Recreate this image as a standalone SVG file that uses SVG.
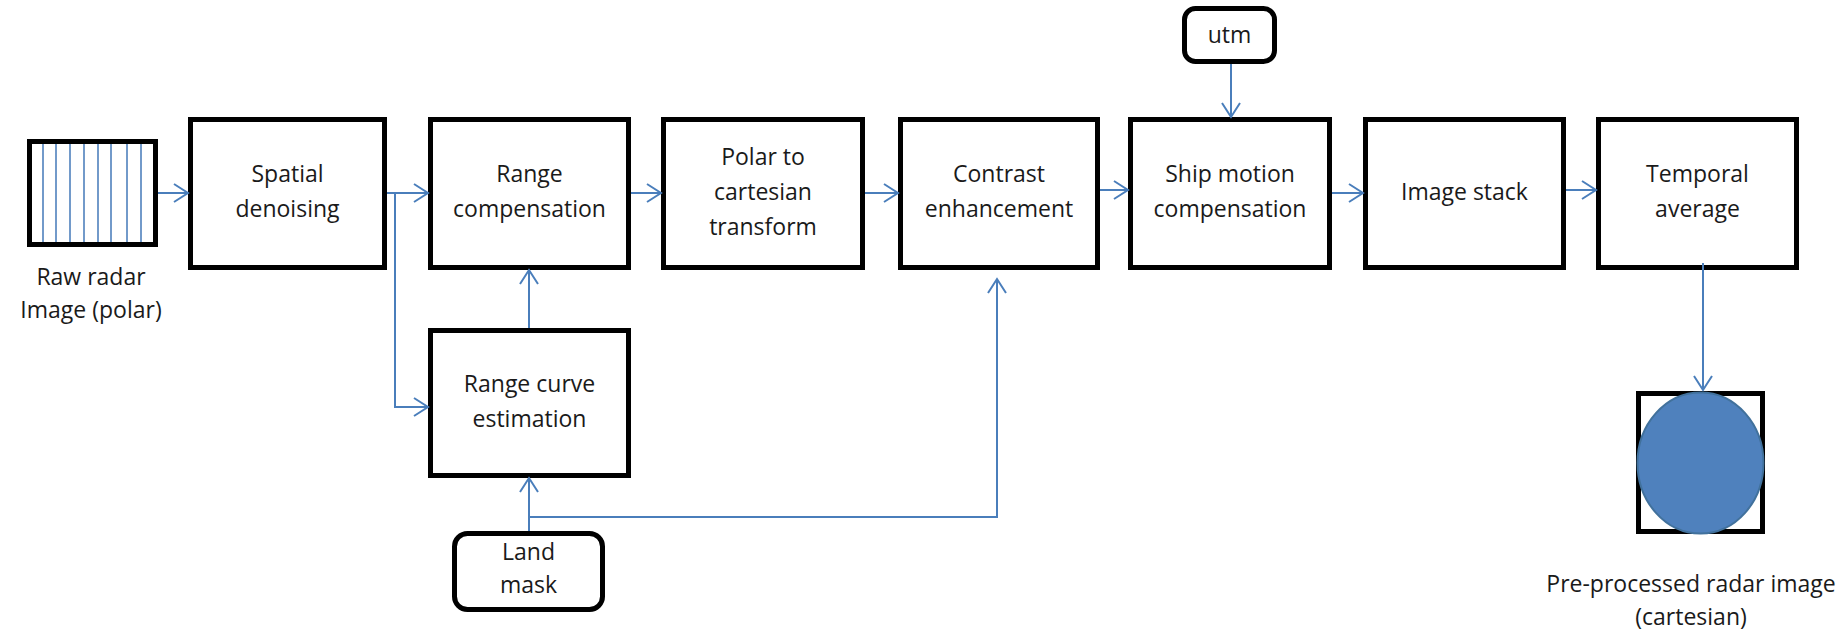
<svg xmlns="http://www.w3.org/2000/svg" width="1845" height="638" viewBox="0 0 1845 638">
  <style>
    .box { fill: #ffffff; stroke: #000000; stroke-width: 5; }
    .lbl { font-family: "Open Sans", "Liberation Sans", sans-serif; font-size: 23px; fill: #1a1a1a; text-anchor: middle; }
    .conn { fill: none; stroke: #4A7EBB; stroke-width: 2; }
    .scan { stroke: #4F81BD; stroke-width: 1.6; }
  </style>
  <defs>
    <marker id="arrow" markerUnits="userSpaceOnUse" markerWidth="20" markerHeight="24" viewBox="-16 -12 18 24" refX="0" refY="0" orient="auto">
      <path d="M-14,-9 L0,0 L-14,9" fill="none" stroke="#4A7EBB" stroke-width="2"/>
    </marker>
  </defs>

  <rect width="1845" height="638" fill="#ffffff"/>

  <!-- input: raw polar radar image -->
  <g id="raw-image">
    <rect class="box" x="29.5" y="141.5" width="126" height="103"/>
    <g class="scan">
      <line x1="43" y1="144" x2="43" y2="242"/>
      <line x1="56" y1="144" x2="56" y2="242"/>
      <line x1="70" y1="144" x2="70" y2="242"/>
      <line x1="84" y1="144" x2="84" y2="242"/>
      <line x1="98" y1="144" x2="98" y2="242"/>
      <line x1="111" y1="144" x2="111" y2="242"/>
      <line x1="127" y1="144" x2="127" y2="242"/>
      <line x1="141" y1="144" x2="141" y2="242"/>
    </g>
    <text class="lbl" x="91" y="285">Raw radar</text>
    <text class="lbl" x="91" y="318">Image (polar)</text>
  </g>

  <g id="spatial-denoising">
    <rect class="box" x="190.5" y="119.5" width="194" height="148"/>
    <text class="lbl" x="287.5" y="182">Spatial</text>
    <text class="lbl" x="287.5" y="217">denoising</text>
  </g>

  <g id="range-compensation">
    <rect class="box" x="430.5" y="119.5" width="198" height="148"/>
    <text class="lbl" x="529.5" y="182">Range</text>
    <text class="lbl" x="529.5" y="217">compensation</text>
  </g>

  <g id="range-curve-estimation">
    <rect class="box" x="430.5" y="330.5" width="198" height="145"/>
    <text class="lbl" x="529.5" y="392">Range curve</text>
    <text class="lbl" x="529.5" y="427">estimation</text>
  </g>

  <g id="land-mask">
    <rect class="box" x="454.5" y="533.5" width="148" height="76" rx="13"/>
    <text class="lbl" x="528.5" y="560">Land</text>
    <text class="lbl" x="528.5" y="593">mask</text>
  </g>

  <g id="polar-to-cartesian">
    <rect class="box" x="663.5" y="119.5" width="199" height="148"/>
    <text class="lbl" x="763" y="165">Polar to</text>
    <text class="lbl" x="763" y="200">cartesian</text>
    <text class="lbl" x="763" y="235">transform</text>
  </g>

  <g id="contrast-enhancement">
    <rect class="box" x="900.5" y="119.5" width="197" height="148"/>
    <text class="lbl" x="999" y="182">Contrast</text>
    <text class="lbl" x="999" y="217">enhancement</text>
  </g>

  <g id="utm">
    <rect class="box" x="1184.5" y="8.5" width="90" height="53" rx="11"/>
    <text class="lbl" x="1229.5" y="43">utm</text>
  </g>

  <g id="ship-motion-compensation">
    <rect class="box" x="1130.5" y="119.5" width="199" height="148"/>
    <text class="lbl" x="1230" y="182">Ship motion</text>
    <text class="lbl" x="1230" y="217">compensation</text>
  </g>

  <g id="image-stack">
    <rect class="box" x="1365.5" y="119.5" width="198" height="148"/>
    <text class="lbl" x="1464.5" y="200">Image stack</text>
  </g>

  <g id="temporal-average">
    <rect class="box" x="1598.5" y="119.5" width="198" height="148"/>
    <text class="lbl" x="1697.5" y="182">Temporal</text>
    <text class="lbl" x="1697.5" y="217">average</text>
  </g>

  <!-- output: cartesian radar image -->
  <g id="output-image">
    <rect class="box" x="1638.5" y="393.5" width="124" height="138"/>
    <ellipse cx="1700.5" cy="463" rx="63" ry="70.5" fill="#4F81BD" stroke="#41719C" stroke-width="2"/>
    <text class="lbl" x="1691" y="592">Pre-processed radar image</text>
    <text class="lbl" x="1691" y="625">(cartesian)</text>
  </g>

  <g id="connectors">
    <path class="conn" d="M158,193 H188" marker-end="url(#arrow)"/>
    <path class="conn" d="M387,193 H428" marker-end="url(#arrow)"/>
    <path class="conn" d="M395,193 V407 H428" marker-end="url(#arrow)"/>
    <path class="conn" d="M529,328 V270" marker-end="url(#arrow)"/>
    <path class="conn" d="M631,193 H661" marker-end="url(#arrow)"/>
    <path class="conn" d="M865,193 H898" marker-end="url(#arrow)"/>
    <path class="conn" d="M1100,190 H1128" marker-end="url(#arrow)"/>
    <path class="conn" d="M1332,193 H1363" marker-end="url(#arrow)"/>
    <path class="conn" d="M1566,190 H1596" marker-end="url(#arrow)"/>
    <path class="conn" d="M1231,64 V117" marker-end="url(#arrow)"/>
    <path class="conn" d="M1703,263 V390" marker-end="url(#arrow)"/>
    <path class="conn" d="M529,531 V478" marker-end="url(#arrow)"/>
    <path class="conn" d="M529,517 H997 V279" marker-end="url(#arrow)"/>
  </g>
</svg>
